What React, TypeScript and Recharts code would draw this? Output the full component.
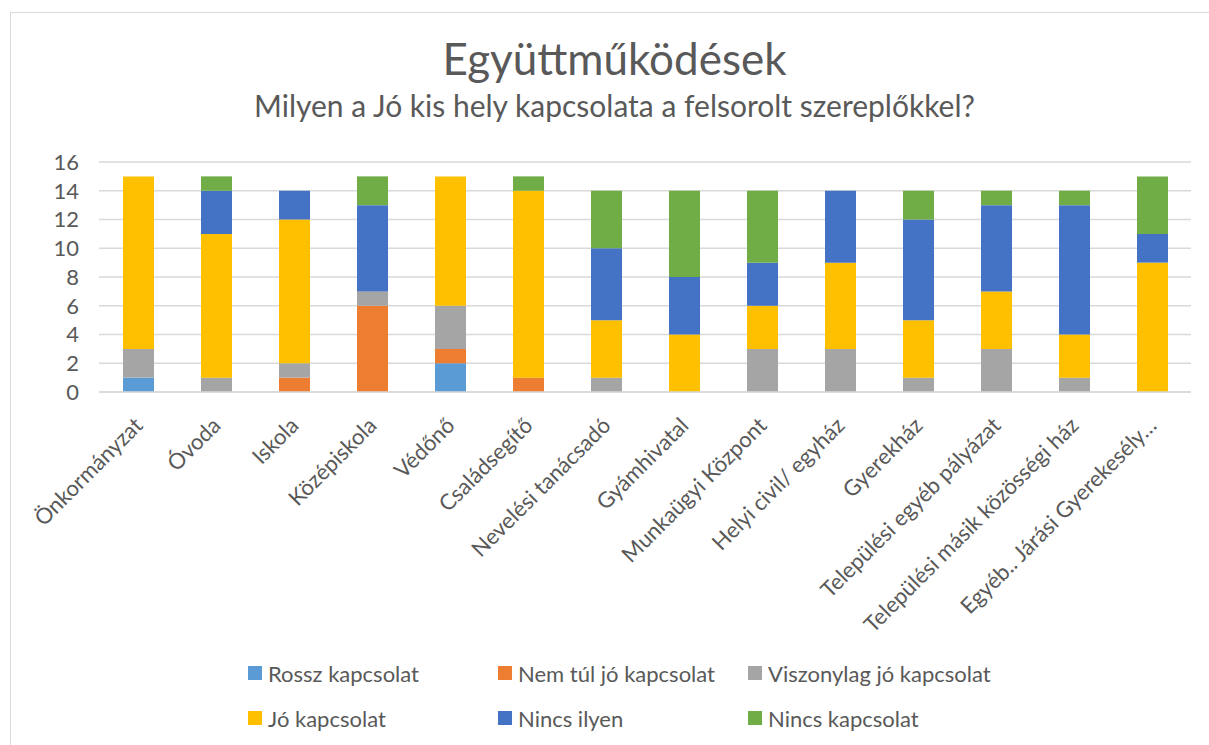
import React from "react";
import { BarChart, Bar, XAxis, YAxis, CartesianGrid, Legend } from "recharts";

const categories = [
  "Önkormányzat",
  "Óvoda",
  "Iskola",
  "Középiskola",
  "Védőnő",
  "Családsegítő",
  "Nevelési tanácsadó",
  "Gyámhivatal",
  "Munkaügyi Központ",
  "Helyi civil/ egyház",
  "Gyerekház",
  "Települési egyéb pályázat",
  "Települési másik közösségi ház",
  "Egyéb.. Járási Gyerekesély…",
];

const rossz = [1, 0, 0, 0, 2, 0, 0, 0, 0, 0, 0, 0, 0, 0];
const nemTulJo = [0, 0, 1, 6, 1, 1, 0, 0, 0, 0, 0, 0, 0, 0];
const viszonylag = [2, 1, 1, 1, 3, 0, 1, 0, 3, 3, 1, 3, 1, 0];
const jo = [12, 10, 10, 0, 9, 13, 4, 4, 3, 6, 4, 4, 3, 9];
const nincsIlyen = [0, 3, 2, 6, 0, 0, 5, 4, 3, 5, 7, 6, 9, 2];
const nincsKapcsolat = [0, 1, 0, 2, 0, 1, 4, 6, 5, 0, 2, 1, 1, 4];

const yTicks = [0, 2, 4, 6, 8, 10, 12, 14, 16];

const series = [
  { key: "rossz", name: "Rossz kapcsolat", color: "#5B9BD5", values: rossz },
  { key: "nemTulJo", name: "Nem túl jó kapcsolat", color: "#ED7D31", values: nemTulJo },
  { key: "viszonylag", name: "Viszonylag jó kapcsolat", color: "#A5A5A5", values: viszonylag },
  { key: "jo", name: "Jó kapcsolat", color: "#FFC000", values: jo },
  { key: "nincsIlyen", name: "Nincs ilyen", color: "#4472C4", values: nincsIlyen },
  { key: "nincsKapcsolat", name: "Nincs kapcsolat", color: "#70AD47", values: nincsKapcsolat },
];

const data = categories.map((c, i) => {
  const row: Record<string, string | number> = { name: c };
  series.forEach((s) => {
    row[s.key] = s.values[i];
  });
  return row;
});

const FONT = "Lato, 'Open Sans', sans-serif";
const TEXT = "#595959";

const XTick = (props: any) => {
  const { x, y, payload } = props;
  return (
    <g transform={`translate(${x},${y + 21})`}>
      <text
        transform="rotate(-45)"
        textAnchor="end"
        dominantBaseline="central"
        fill={TEXT}
        fontSize={22}
        fontFamily={FONT}
      >
        {payload.value}
      </text>
    </g>
  );
};

const legendPos = [
  { x: 248, y: 673 },
  { x: 498, y: 673 },
  { x: 748, y: 673 },
  { x: 248, y: 718 },
  { x: 498, y: 718 },
  { x: 748, y: 718 },
];

const LegendContent = () => (
  <div style={{ position: "relative", width: 1209, height: 0 }}>
    {series.map((s, i) => (
      <div
        key={s.key}
        style={{
          position: "absolute",
          left: legendPos[i].x,
          top: legendPos[i].y - 655 - 15,
          display: "flex",
          alignItems: "center",
          height: 30,
          fontFamily: FONT,
          fontSize: 22,
          color: TEXT,
          whiteSpace: "nowrap",
        }}
      >
        <span
          style={{
            display: "inline-block",
            width: 14,
            height: 14,
            background: s.color,
            marginRight: 6,
          }}
        />
        {s.name}
      </div>
    ))}
  </div>
);

export default function App() {
  return (
    <div
      style={{
        position: "absolute",
        left: 0,
        top: 0,
        width: 1209,
        height: 745,
        background: "#fff",
        overflow: "hidden",
      }}
    >
      <div
        style={{
          position: "absolute",
          left: 10,
          top: 12,
          width: 1220,
          height: 760,
          border: "1px solid #D9D9D9",
          boxSizing: "border-box",
        }}
      />
      <div
        style={{
          position: "absolute",
          left: 0,
          width: 1229,
          top: 32,
          textAlign: "center",
          fontFamily: FONT,
          fontSize: 44,
          color: TEXT,
          lineHeight: "52px",
          whiteSpace: "nowrap",
        }}
      >
        Együttműködések
      </div>
      <div
        style={{
          position: "absolute",
          left: 0,
          width: 1229,
          top: 87,
          textAlign: "center",
          fontFamily: FONT,
          fontSize: 30,
          color: TEXT,
          lineHeight: "36px",
          whiteSpace: "nowrap",
        }}
      >
        Milyen a Jó kis hely kapcsolata a felsorolt szereplőkkel?
      </div>
      <BarChart
        width={1209}
        height={745}
        data={data}
        margin={{ top: 162, right: 18, bottom: 73, left: 0 }}
        barSize={31}
      >
        <CartesianGrid vertical={false} stroke="#D9D9D9" strokeWidth={1.5} />
        <XAxis
          dataKey="name"
          interval={0}
          height={280}
          tickLine={false}
          axisLine={{ stroke: "#D9D9D9", strokeWidth: 1.5 }}
          tick={<XTick />}
        />
        <YAxis
          width={99}
          domain={[0, 16]}
          ticks={yTicks}
          interval={0}
          tickLine={false}
          axisLine={false}
          tick={{ fill: TEXT, fontSize: 22, fontFamily: FONT }}
          tickMargin={14}
        />
        {series.map((s) => (
          <Bar
            key={s.key}
            dataKey={s.key}
            name={s.name}
            stackId="a"
            fill={s.color}
            isAnimationActive={false}
          />
        ))}
        <Legend
          content={<LegendContent />}
          height={0}
          wrapperStyle={{ position: "absolute", left: 0, top: 655, width: 1209, height: 0 }}
        />
      </BarChart>
    </div>
  );
}
